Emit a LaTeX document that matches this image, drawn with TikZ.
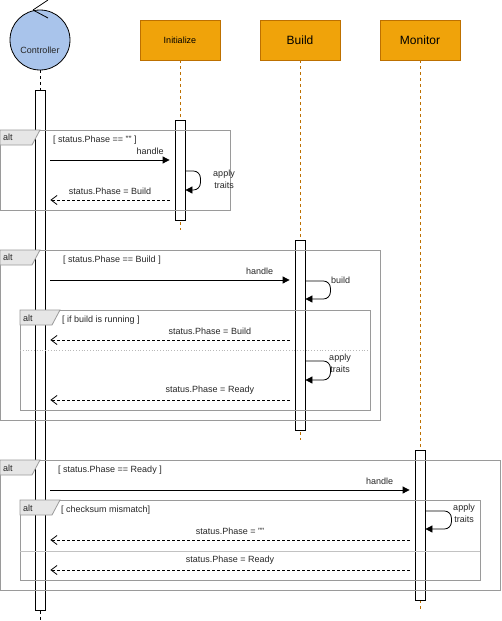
\documentclass[tikz,border=0pt]{standalone}
\usepackage{fontspec}
\setmainfont{Liberation Sans}
\usetikzlibrary{arrows.meta}

\definecolor{orfill}{HTML}{F0A30A}
\definecolor{ordraw}{HTML}{BD7000}
\definecolor{ctlfill}{HTML}{A9C4EB}
\definecolor{framegray}{HTML}{9A9A9A}
\definecolor{tagfill}{HTML}{E6E6E6}

\tikzset{
  head/.style={draw=ordraw, fill=orfill, minimum width=80pt, minimum height=40pt, inner sep=0pt, line width=0.8pt},
  bar/.style={draw, fill=white, minimum width=10pt, inner sep=0pt, anchor=north, line width=0.8pt},
  life/.style={ordraw, line width=0.8pt, dash pattern=on 3pt off 3pt},
  lbl/.style={font=\fontsize{9}{12}\selectfont, text=black!85, inner sep=1pt},
  msg/.style={line width=0.8pt, -{Triangle[length=7pt,width=7pt]}, shorten >=5pt, shorten <=5pt},
  ret/.style={line width=0.8pt, dash pattern=on 3pt off 2pt, -{Straight Barb[length=6pt,width=9pt]}, shorten >=5pt, shorten <=5pt},
  selfmsg/.style={line width=0.8pt, rounded corners=7pt, -{Triangle[length=7pt,width=7pt]}},
  frame/.style={draw=framegray, line width=0.8pt},
  tag/.style={draw=framegray, fill=tagfill, line width=0.8pt}
}

\begin{document}
\begin{tikzpicture}[x=1pt, y=-1pt]
\useasboundingbox (0,0) rectangle (501,621);

% Lifeline heads
\node[circle, draw, fill=ctlfill, minimum size=60pt, inner sep=0pt, line width=0.8pt] (ctl) at (40,40) {};
\node[lbl] (ctltext) at ([yshift=-10pt]ctl.center) {Controller};
\draw[line width=0.8pt] (33,10) -- (48,0);
\draw[line width=0.8pt] (33,10) -- (48,18);
\node[head] (init) at (180,40) {\fontsize{9}{10}\selectfont Initialize};
\node[head] (build) at (300,40) {\fontsize{12}{14}\selectfont Build};
\node[head] (mon) at (420,40) {\fontsize{12}{14}\selectfont Monitor};

% Lifelines
\draw[life] (init.south) -- (180,230);
\draw[life] (build.south) -- (300,440);
\draw[life] (mon.south) -- (420,610);

% Activation bars
\node[bar, minimum height=520pt] (cbar) at (40,90) {};
\node[bar, minimum height=100pt] (ibar) at (180,120) {};
\node[bar, minimum height=190pt] (bbar) at (300,240) {};
\node[bar, minimum height=150pt] (mbar) at (420,450) {};
\draw[line width=0.8pt, dash pattern=on 3pt off 3pt] (ctl.south) -- (cbar.north);
\draw[line width=0.8pt, dash pattern=on 3pt off 3pt] (cbar.south) -- (40,621);

% Frame 1
\draw[frame] (0,130) rectangle (230,210);
\filldraw[tag] (0,130) -- (40,130) -- (32,145) -- (0,145) -- cycle;
\node[lbl, anchor=west] at (2,137) {alt};
\node[lbl, anchor=west] at (52,140) {[ status.Phase == "" ]};
\draw[msg] (cbar.east |- 0,160) -- (ibar.west |- 0,160)
  node[lbl, above=4pt, pos=0.81] {handle};
\draw[selfmsg] (ibar.east |- 0,171) -- ++(15,0) -- ++(0,19) -- ++(-15,0);
\node[lbl, align=center] at (224,179) {apply\\traits};
\draw[ret] (ibar.west |- 0,200) -- (cbar.east |- 0,200)
  node[lbl, above=4pt, midway] {status.Phase = Build};

% Frame 2
\draw[frame] (0,250) rectangle (380,420);
\filldraw[tag] (0,250) -- (40,250) -- (32,265) -- (0,265) -- cycle;
\node[lbl, anchor=west] at (2,257) {alt};
\node[lbl, anchor=west] at (62,260) {[ status.Phase == Build ]};
\draw[msg] (cbar.east |- 0,280) -- (bbar.west |- 0,280)
  node[lbl, above=4pt, pos=0.86] {handle};
\draw[selfmsg] (bbar.east |- 0,281) -- ++(25,0) -- ++(0,18) -- ++(-25,0);
\node[lbl, anchor=west] at (330,280) {build};

% Frame 2, inner
\draw[frame] (20,310) rectangle (370,410);
\filldraw[tag] (20,310) -- (60,310) -- (52,325) -- (20,325) -- cycle;
\node[lbl, anchor=west] at (22,318) {alt};
\node[lbl, anchor=west] at (61,320) {[ if build is running ]};
\draw[ret] (bbar.west |- 0,340) -- (cbar.east |- 0,340)
  node[lbl, above=4pt, pos=0.34] {status.Phase = Build};
\draw[framegray!70, line width=0.8pt, dotted] (20,350) -- (370,350);
\draw[selfmsg] (bbar.east |- 0,361) -- ++(25,0) -- ++(0,19) -- ++(-25,0);
\node[lbl, align=center] at (340,363) {apply\\traits};
\draw[ret] (bbar.west |- 0,400) -- (cbar.east |- 0,400)
  node[lbl, above=4pt, pos=0.34] {status.Phase = Ready};

% Frame 3
\draw[frame] (0,460) rectangle (500,590);
\filldraw[tag] (0,460) -- (40,460) -- (32,475) -- (0,475) -- cycle;
\node[lbl, anchor=west] at (2,468) {alt};
\node[lbl, anchor=west] at (57,470) {[ status.Phase == Ready ]};
\draw[msg] (cbar.east |- 0,490) -- (mbar.west |- 0,490)
  node[lbl, above=4pt, pos=0.905] {handle};

% Frame 3, inner
\draw[frame] (20,500) rectangle (480,580);
\filldraw[tag] (20,500) -- (60,500) -- (52,515) -- (20,515) -- cycle;
\node[lbl, anchor=west] at (22,508) {alt};
\node[lbl, anchor=west] at (60,510) {[ checksum mismatch]};
\draw[selfmsg] (mbar.east |- 0,511) -- ++(26,0) -- ++(0,18) -- ++(-26,0);
\node[lbl, align=center] at (464,513) {apply\\traits};
\draw[ret] (mbar.west |- 0,540) -- (cbar.east |- 0,540)
  node[lbl, above=4pt, midway] {status.Phase = ""};
\draw[framegray!60, line width=0.8pt] (20,551) -- (480,551);
\draw[ret] (mbar.west |- 0,570) -- (cbar.east |- 0,570)
  node[lbl, above=4pt, midway] {status.Phase = Ready};

\end{tikzpicture}
\end{document}
